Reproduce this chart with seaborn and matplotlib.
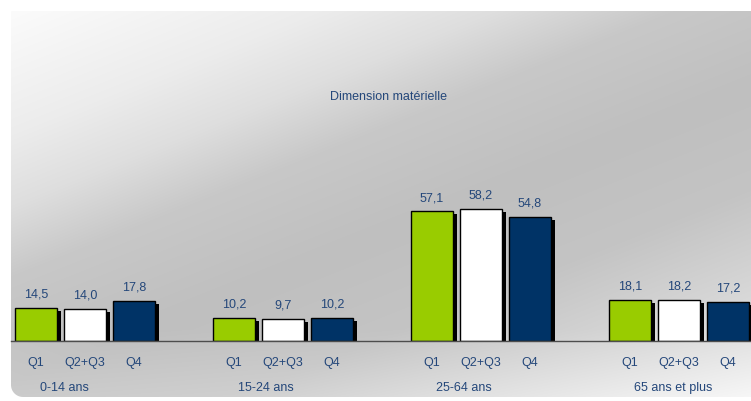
import numpy as np
import pandas as pd
import matplotlib
matplotlib.use("Agg")
import matplotlib.pyplot as plt
import matplotlib.patheffects as pe
from matplotlib.path import Path
from matplotlib.patches import PathPatch
import seaborn as sns

# donnees
groupes = ["0-14 ans", "15-24 ans", "25-64 ans", "65 ans et plus"]
quintiles = ["Q1", "Q2+Q3", "Q4"]
val_q1 = [14.5, 10.2, 57.1, 18.1]
val_q23 = [14.0, 9.7, 58.2, 18.2]
val_q4 = [17.8, 10.2, 54.8, 17.2]
titre = "Dimension matérielle"

couleurs = {"Q1": "#99cc00", "Q2+Q3": "#ffffff", "Q4": "#003366"}
bleu_txt = "#24477a"

df = pd.DataFrame({
    "groupe": groupes * 3,
    "quintile": ["Q1"] * 4 + ["Q2+Q3"] * 4 + ["Q4"] * 4,
    "valeur": val_q1 + val_q23 + val_q4,
})

sns.set_style("white")
plt.rcParams["font.family"] = ["Liberation Sans", "DejaVu Sans"]

W, H = 751, 402
fig = plt.figure(figsize=(W / 100, H / 100), dpi=100)

# fond degrade avec coin arrondi en bas a gauche
bg = fig.add_axes([0, 0, 1, 1], zorder=0)
bg.set_xlim(0, W)
bg.set_ylim(H, 0)
bg.axis("off")
X, Y = np.meshgrid(np.arange(W), np.arange(H))
t = (X + 2.5 * Y) / (W + 2.5 * H)
L = np.interp(t, [0, 0.2, 0.3, 0.4, 0.55, 0.7, 1.0],
              [253, 236, 222, 200, 191, 196, 236]) / 255
L = L + np.clip((Y - 330) / 70, 0, 1) * 12 / 255
L = np.clip(L, 0, 1)
img = bg.imshow(np.dstack([L, L, L]), extent=(0, W, H, 0), aspect="auto")

x0, y0, x1, y1, r = 11, 12, 760, 398, 12
ang = np.linspace(np.pi, np.pi / 2, 12)
coin = np.column_stack([x0 + r + r * np.cos(ang), y1 - r + r * np.sin(ang)])
pts = np.vstack([[[x1, y0], [x0, y0]], coin, [[x1, y1], [x1, y0]]])
clip = PathPatch(Path(pts, closed=True), transform=bg.transData, facecolor="none", edgecolor="none")
bg.add_patch(clip)
img.set_clip_path(clip)

# graphique
px_unit = 2.27
ax = fig.add_axes([11 / W, 60 / H, 1 - 11 / W, 330 / H], zorder=1)
ax.patch.set_alpha(0)
sns.barplot(data=df, x="groupe", y="valeur", hue="quintile", order=groupes,
            hue_order=quintiles, palette=couleurs, saturation=1, width=0.742, gap=0.14,
            edgecolor="black", linewidth=1, legend=False, ax=ax)
ax.set_xlim((11 - 85) / 198, (W - 85) / 198)
ax.set_ylim(0, 330 / px_unit)

for bar in ax.patches:
    bar.set_path_effects([pe.SimplePatchShadow(offset=(2.9, -2.2), shadow_rgbFace="black", alpha=1),
                          pe.Normal()])

for cont, q in zip(ax.containers, quintiles):
    labels = [f"{b.get_height():.1f}".replace(".", ",") for b in cont]
    ax.bar_label(cont, labels=labels, padding=6, fontsize=9, color=bleu_txt)
    for b in cont:
        ax.annotate(q, (b.get_x() + b.get_width() / 2, 0), xytext=(0, -15),
                    textcoords="offset points", ha="center", va="center",
                    fontsize=9, color=bleu_txt, annotation_clip=False)

# noms des groupes sous les Q
for b, g in zip(ax.containers[0], groupes):
    ax.annotate(g, (b.get_x() + 0.125, 0), xytext=(0, -33),
                textcoords="offset points", ha="left", va="center",
                fontsize=9, color=bleu_txt, annotation_clip=False)

ax.set_xticks([])
ax.set_yticks([])
ax.set_xlabel("")
ax.set_ylabel("")
for s in ["top", "right", "left"]:
    ax.spines[s].set_visible(False)
ax.spines["bottom"].set_color("#4d4d4d")
ax.spines["bottom"].set_linewidth(1)

fig.text(388 / W, 1 - 97 / H, titre, ha="center", va="center", fontsize=9, color=bleu_txt)

fig.savefig("out.png", dpi=100)
